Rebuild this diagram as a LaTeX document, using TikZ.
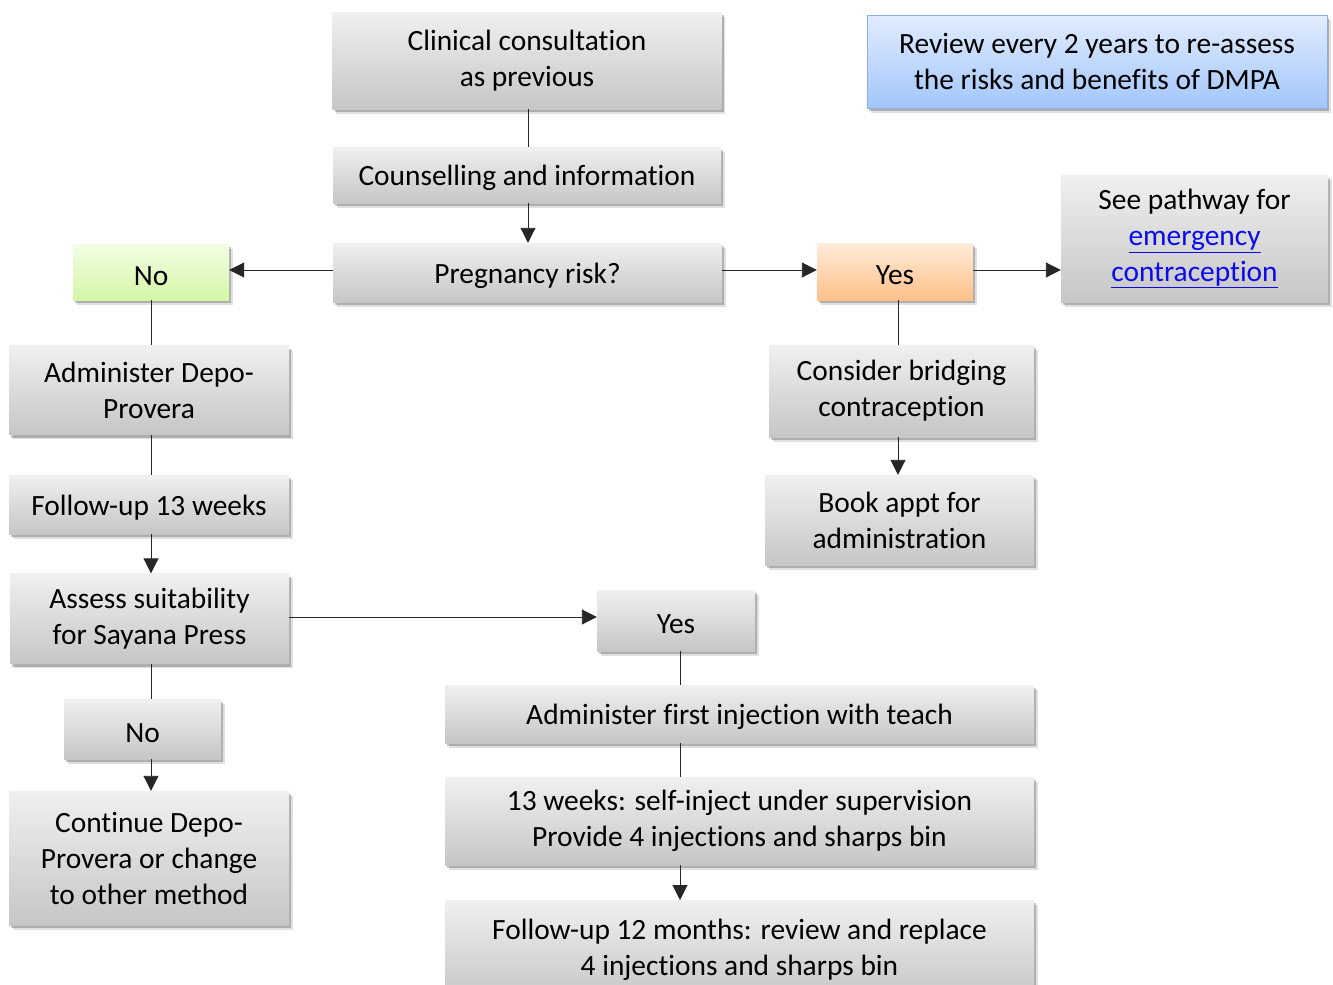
\documentclass[tikz,border=0pt]{standalone}
\usepackage{fontspec}
\setmainfont{Carlito}[Ligatures=NoCommon]
\usetikzlibrary{arrows.meta,shadows,calc}
\definecolor{gtop}{RGB}{240,240,240}
\definecolor{gbot}{RGB}{198,198,198}
\definecolor{grtop}{RGB}{242,254,228}
\definecolor{grbot}{RGB}{212,246,165}
\definecolor{ortop}{RGB}{255,236,218}
\definecolor{orbot}{RGB}{255,192,136}
\definecolor{bltop}{RGB}{226,236,255}
\definecolor{blbot}{RGB}{162,198,250}
\definecolor{blline}{RGB}{140,172,232}
\definecolor{linkblue}{RGB}{10,10,235}
\tikzset{
  box/.style={rectangle, inner sep=0pt, align=center, font=\fontsize{29.4}{36}\selectfont,
    execute at begin node={\rule{0pt}{27pt}},
    general shadow={shadow xshift=2pt, shadow yshift=-3pt, opacity=.22, fill=black},
    general shadow={shadow xshift=3.5pt, shadow yshift=-4.5pt, opacity=.12, fill=black}},
  gbox/.style={box, top color=gtop, bottom color=gbot},
  grbox/.style={box, top color=grtop, bottom color=grbot},
  orbox/.style={box, top color=ortop, bottom color=orbot},
  blbox/.style={box, top color=bltop, bottom color=blbot, draw=blline, line width=0.8pt},
  conn/.style={draw=black!85, line width=0.9pt},
  arr/.style={conn, -{Triangle[length=15pt,width=15pt]}},
  sz/.style n args={2}{minimum width=#1pt, minimum height=#2pt},
}
\begin{document}
\begin{tikzpicture}[x=1pt,y=-1pt]
\useasboundingbox (0,0) rectangle (1333,985);
\clip (0,0) rectangle (1333,985);
\fill[white] (0,0) rectangle (1333,985);
% top column
\node[gbox, sz={389}{97}] (clin) at (527,60.5) {Clinical consultation\\as previous};
\node[gbox, sz={388}{56}] (coun) at (527,175) {Counselling and information};
\node[gbox, sz={389}{59}] (preg) at (527.5,272.5) {Pregnancy risk?};
\node[grbox, sz={156}{56}] (nog) at (151,272) {No};
\node[orbox, sz={156}{57}] (yeso) at (895,271.5) {Yes};
\node[gbox, sz={267}{127}] (path) at (1194.5,238.5) {See pathway for\\\textcolor{linkblue}{\underline{emergency}}\\\textcolor{linkblue}{\underline{contraception}}};
\node[blbox, sz={460}{93}] (rev) at (1097,61.5) {Review every 2 years to re-assess\\the risks and benefits of DMPA};
% left column
\node[gbox, sz={280}{89}] (adm) at (149,390) {Administer Depo-\\Provera};
\node[gbox, sz={280}{59}] (fu13) at (149,504.5) {Follow-up 13 weeks};
\node[gbox, sz={279}{90}] (ass) at (149.5,618.5) {Assess suitability\\for Sayana Press};
\node[gbox, sz={157}{60}] (nogr) at (142.5,729) {No};
\node[gbox, sz={280}{134}] (cont) at (149,858) {Continue Depo-\\Provera or change\\to other method};
% right column
\node[gbox, sz={265}{92}] (brid) at (901.5,391) {Consider bridging\\contraception};
\node[gbox, sz={269}{90}] (book) at (899.5,520) {Book appt for\\administration};
% bottom middle
\node[gbox, sz={158}{61}] (yesg) at (676,620.5) {Yes};
\node[gbox, sz={589}{58}] (fir) at (739.5,714) {Administer first injection with teach};
\node[gbox, sz={589}{88}] (wk13) at (739.5,821) {13 weeks: self-inject under supervision\\Provide 4 injections and sharps bin};
\node[gbox, sz={589}{100}, anchor=north] (fu12) at (739.5,900) {};
\node[font=\fontsize{29.4}{36}\selectfont, align=center, execute at begin node={\rule{0pt}{27pt}}] (fu12t) at (739.5,950) {Follow-up 12 months: review and replace\\4 injections and sharps bin};
% connectors
\coordinate (cx) at (528,0);
\coordinate (lx) at (151,0);
\coordinate (rx) at (898,0);
\coordinate (mx) at (680,0);
\draw[conn] (clin.south -| cx) -- (coun.north -| cx);
\draw[arr] (coun.south -| cx) -- (preg.north -| cx);
\draw[arr] (preg.west |- 0,270) -- (nog.east |- 0,270);
\draw[arr] (preg.east |- 0,270) -- (yeso.west |- 0,270);
\draw[arr] (yeso.east |- 0,270) -- (path.west |- 0,270);
\draw[conn] (nog.south -| lx) -- (adm.north -| lx);
\draw[conn] (adm.south -| lx) -- (fu13.north -| lx);
\draw[arr] (fu13.south -| lx) -- (ass.north -| lx);
\draw[arr] (ass.east |- 0,617) -- (yesg.west |- 0,617);
\draw[conn] (ass.south -| lx) -- (nogr.north -| lx);
\draw[arr] (nogr.south -| lx) -- (cont.north -| lx);
\draw[conn] (yeso.south -| rx) -- (brid.north -| rx);
\draw[arr] (brid.south -| rx) -- (book.north -| rx);
\draw[conn] (yesg.south -| mx) -- (fir.north -| mx);
\draw[conn] (fir.south -| mx) -- (wk13.north -| mx);
\draw[arr] (wk13.south -| mx) -- (fu12.north -| mx);
\end{tikzpicture}
\end{document}
